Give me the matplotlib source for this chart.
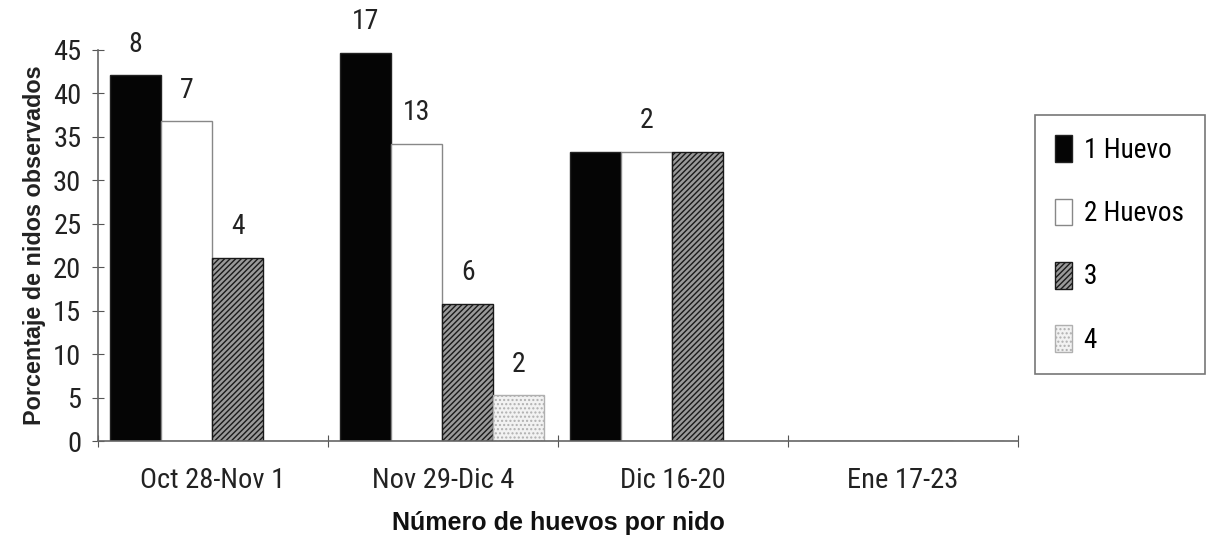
import os
import numpy as np
import matplotlib.pyplot as plt
from matplotlib import font_manager
from matplotlib.font_manager import FontProperties

# look for a narrow/condensed regular face for the numbers and tick labels
def fuente_estrecha():
    prefer = ["LiberationSansNarrow-Regular", "ArialNarrow", "RobotoCondensed-Regular",
              "NotoSans-Condensed", "DejaVuSansCondensed", "OpenSans_Condensed-Regular",
              "OpenSansCondensed"]
    cand = []
    for f in font_manager.fontManager.ttflist:
        base = os.path.basename(f.fname)
        if f.style != "normal" or f.weight not in (400, "normal", "regular"):
            continue
        if "Narrow" in base or "Condensed" in base or f.stretch in ("condensed", "semi-condensed"):
            if "Bold" in base or "Oblique" in base or "Italic" in base:
                continue
            cand.append(f.fname)
    for p in prefer:
        for c in cand:
            if os.path.basename(c).startswith(p):
                return c
    return cand[0] if cand else None

ruta = fuente_estrecha()

def fp(size):
    if ruta:
        return FontProperties(fname=ruta, size=size)
    return FontProperties(family="Liberation Sans", size=size * 0.84)

periodos = ["Oct 28-Nov 1", "Nov 29-Dic 4", "Dic 16-20", "Ene 17-23"]
series = ["1 Huevo", "2 Huevos", "3", "4"]

# porcentaje de nidos por periodo
porcentaje = {
    "1 Huevo": [42.1, 44.7, 33.3, 0],
    "2 Huevos": [36.8, 34.2, 33.3, 0],
    "3": [21.1, 15.8, 33.3, 0],
    "4": [0, 5.3, 0, 0],
}
# numero de nidos que se escribe sobre las barras
etiquetas = {
    "1 Huevo": ["8", "17", "", ""],
    "2 Huevos": ["7", "13", "2", ""],
    "3": ["4", "6", "", ""],
    "4": ["", "2", "", ""],
}

estilos = {
    "1 Huevo": dict(facecolor="#050505", edgecolor="#222222", hatch=None),
    "2 Huevos": dict(facecolor="white", edgecolor="#888888", hatch=None),
    "3": dict(facecolor="#9a9a9a", edgecolor="#1a1a1a", hatch="//////"),
    "4": dict(facecolor="#f2f2f2", edgecolor="#b0b0b0", hatch="...."),
}

fig = plt.figure(figsize=(12.07, 5.36), dpi=100)
ax = fig.add_axes([98 / 1207, 95 / 536, 920 / 1207, 391 / 536])

ancho = 0.222
inicio = 0.052
x = np.arange(len(periodos))
for k, s in enumerate(series):
    vals = porcentaje[s]
    est = estilos[s]
    bars = ax.bar(x + inicio + k * ancho, vals, width=ancho, align="edge",
                  facecolor=est["facecolor"], edgecolor=est["edgecolor"],
                  hatch=est["hatch"], linewidth=1.0, label=s)
    for b, v, t in zip(bars, vals, etiquetas[s]):
        if t:
            ax.text(b.get_x() + b.get_width() / 2, v + 2.0, t, ha="center", va="bottom",
                    fontproperties=fp(20), color="#222222")

ax.set_xlim(0, 4)
ax.set_ylim(0, 45)
ax.set_yticks(range(0, 50, 5))
ax.set_xticks(range(0, 5))
ax.set_xticklabels([])
ax.set_xticks(x + 0.5, minor=True)
ax.set_xticklabels(periodos, minor=True)
ax.tick_params(axis="x", which="minor", length=0, pad=19)
ax.tick_params(axis="x", which="major", direction="inout", length=8, color="#555555")
ax.tick_params(axis="y", direction="inout", length=8, color="#555555", pad=8)
for lab in ax.get_xticklabels(minor=True) + ax.get_yticklabels():
    lab.set_fontproperties(fp(20.5))
    lab.set_color("#222222")

for sp in ["top", "right"]:
    ax.spines[sp].set_visible(False)
for sp in ["left", "bottom"]:
    ax.spines[sp].set_color("#666666")
    ax.spines[sp].set_linewidth(1.2)

ax.set_ylabel("Porcentaje de nidos observados", fontsize=16.8, fontweight="bold",
              family="Liberation Sans", color="#222222", labelpad=5)
ax.set_xlabel("Número de huevos por nido", fontsize=18, fontweight="bold",
              family="Liberation Sans", color="#111111", labelpad=12)

leg = fig.legend(loc="upper left", bbox_to_anchor=(1035 / 1207, 1 - 115 / 536, 170 / 1207, 0),
                 mode="expand", prop=fp(19.5),
                 handlelength=0.6, handleheight=1.15, handletextpad=0.45,
                 labelspacing=1.28, borderpad=0.75, borderaxespad=0, fancybox=False,
                 edgecolor="#777777", framealpha=1)
leg.get_frame().set_linewidth(1.2)

fig.savefig("out.png", dpi=100)
